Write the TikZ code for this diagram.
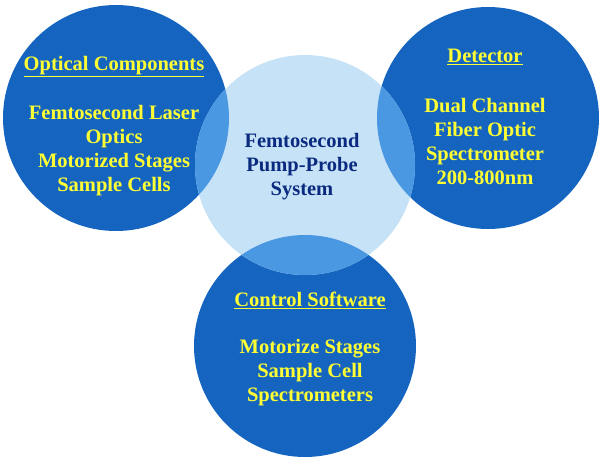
\documentclass[tikz,border=0pt]{standalone}
\usepackage{fontspec}
\setmainfont{Liberation Serif}
\definecolor{dk}{HTML}{1565C0}
\definecolor{lt}{HTML}{C6E2F7}
\definecolor{md}{HTML}{4A98E2}
\definecolor{yl}{HTML}{FFFF33}
\definecolor{tx}{HTML}{0A2A80}
\begin{document}
\begin{tikzpicture}[x=1pt,y=-1pt,
  lab/.style={align=center,font=\bfseries\fontsize{20.5}{24}\selectfont,text=yl,inner sep=0pt},
  clab/.style={align=center,font=\bfseries\fontsize{20.5}{24}\selectfont,text=tx,inner sep=0pt}]
\useasboundingbox (0,0) rectangle (600,464);
\fill[dk] (116,118) circle (113);
\fill[dk] (488,118) circle (111);
\fill[dk] (305,346) circle (111);
\fill[lt] (305,165) circle (110);
\begin{scope}\clip (305,165) circle (110);
\fill[md] (116,118) circle (113);
\fill[md] (488,118) circle (111);
\fill[md] (305,346) circle (111);
\end{scope}
\node[lab] (oc) at (114,67) {\underline{Optical Components}};
\node[lab] (ocl) at (114,151) {Femtosecond Laser\\Optics\\Motorized Stages\\Sample Cells};
\node[lab] (de) at (485,57) {\underline{Detector}};
\node[lab] (del) at (485,141) {Dual Channel\\Fiber Optic\\Spectrometer\\200-800nm};
\node[lab] (cs) at (310,300) {\underline{Control Software}};
\node[lab] (csl) at (310,373) {Motorize Stages\\Sample Cell\\Spectrometers};
\node[clab] (ce) at (302,167) {Femtosecond\\Pump-Probe\\System};
\end{tikzpicture}
\end{document}
